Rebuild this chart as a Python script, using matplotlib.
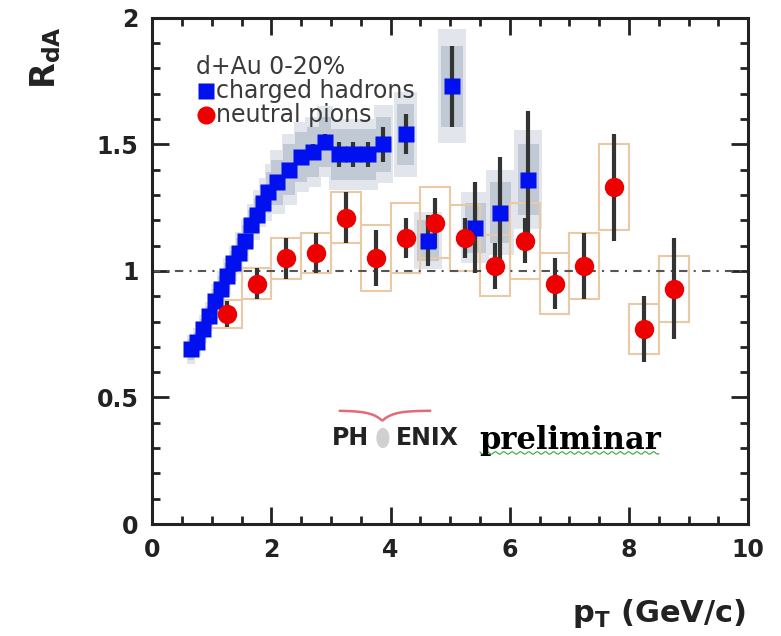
import numpy as np
import matplotlib.pyplot as plt
from matplotlib.patches import Rectangle, Ellipse
from matplotlib.ticker import MultipleLocator

plt.rcParams['font.family'] = ['DejaVu Sans']

# charged hadrons (blue squares)
pt_h = [0.65, 0.75, 0.85, 0.95, 1.05, 1.15, 1.25, 1.35, 1.45, 1.55, 1.65, 1.75, 1.85, 1.95,
        2.1, 2.3, 2.5, 2.7, 2.9, 3.125, 3.375, 3.625, 3.875, 4.25,
        4.63, 5.03, 5.42, 5.84, 6.31]
r_h = [0.69, 0.72, 0.77, 0.82, 0.88, 0.93, 0.98, 1.03, 1.07, 1.12, 1.18, 1.22, 1.27, 1.31,
       1.35, 1.40, 1.45, 1.47, 1.51, 1.46, 1.46, 1.46, 1.50, 1.54,
       1.12, 1.73, 1.17, 1.23, 1.36]
stat_h = [0.01, 0.01, 0.01, 0.01, 0.01, 0.01, 0.01, 0.01, 0.01, 0.01, 0.01, 0.01, 0.01, 0.01,
          0.02, 0.02, 0.02, 0.03, 0.03, 0.05, 0.05, 0.05, 0.07, 0.08,
          0.10, 0.16, 0.18, 0.22, 0.27]
sys_h = [0.04, 0.04, 0.04, 0.04, 0.05, 0.05, 0.05, 0.05, 0.06, 0.06, 0.06, 0.07, 0.07, 0.08,
         0.09, 0.10, 0.10, 0.10, 0.10, 0.10, 0.10, 0.10, 0.11, 0.12,
         0.08, 0.16, 0.10, 0.12, 0.14]
wid_h = [0.05] * 14 + [0.1] * 5 + [0.125] * 4 + [0.15] + [0.18] * 5

# neutral pions (red circles)
pt_p = [1.25, 1.75, 2.25, 2.75, 3.25, 3.75, 4.25, 4.75, 5.25, 5.75, 6.25, 6.75, 7.25, 7.75, 8.25, 8.75]
r_p = [0.83, 0.95, 1.05, 1.07, 1.21, 1.05, 1.13, 1.19, 1.13, 1.02, 1.12, 0.95, 1.02, 1.33, 0.77, 0.93]
stat_p = [0.05, 0.06, 0.08, 0.08, 0.10, 0.11, 0.08, 0.10, 0.08, 0.09, 0.09, 0.10, 0.13, 0.21, 0.13, 0.20]
sys_p = [0.055, 0.06, 0.08, 0.08, 0.10, 0.13, 0.14, 0.14, 0.13, 0.12, 0.15, 0.12, 0.13, 0.17, 0.10, 0.13]

fig = plt.figure(figsize=(7.81, 6.36), dpi=100)
ax = fig.add_axes([0.195, 0.176, 0.763, 0.796])

# grey systematic band for hadrons
for x, y, s, w in zip(pt_h, r_h, sys_h, wid_h):
    ax.add_patch(Rectangle((x - w * 1.3, y - s * 1.4), 2.6 * w, 2.8 * s,
                           color='#e2e6ec', lw=0, zorder=1))
    ax.add_patch(Rectangle((x - w, y - s), 2 * w, 2 * s,
                           color='#c0c9d4', lw=0, zorder=1.5))

# orange systematic boxes for pions
for x, y, s in zip(pt_p, r_p, sys_p):
    ax.add_patch(Rectangle((x - 0.25, y - s), 0.5, 2 * s, fill=False,
                           ec='#e9c9a6', lw=1.5, zorder=2))

ax.axhline(1.0, color='#555555', lw=1.5, ls=(0, (4, 3, 1, 3)), zorder=2.5)

ax.errorbar(pt_h, r_h, yerr=stat_h, fmt='none', ecolor='#333333', elinewidth=3, zorder=3)
ax.errorbar(pt_p, r_p, yerr=stat_p, fmt='none', ecolor='#333333', elinewidth=3, zorder=3)
ax.plot(pt_h, r_h, 's', color='#0010ee', ms=11, mec='none', zorder=4)
ax.plot(pt_p, r_p, 'o', color='#ee0000', ms=14, mec='none', zorder=4)

ax.set_xlim(0, 10)
ax.set_ylim(0, 2)
ax.xaxis.set_major_locator(MultipleLocator(2))
ax.xaxis.set_minor_locator(MultipleLocator(0.5))
ax.yaxis.set_minor_locator(MultipleLocator(0.1))
ax.set_yticks([0, 0.5, 1, 1.5, 2])
ax.set_yticklabels(['0', '0.5', '1', '1.5', '2'])
ax.tick_params(which='both', direction='in', top=True, right=True, width=2, color='#222222')
ax.tick_params(which='major', length=12, labelsize=17, pad=10)
ax.tick_params(which='minor', length=6)
for lab in ax.get_xticklabels() + ax.get_yticklabels():
    lab.set_fontweight('bold')
    lab.set_color('#222222')
for sp in ax.spines.values():
    sp.set_linewidth(2.2)
    sp.set_color('#222222')

# legend
ax.text(0.74, 1.805, 'd+Au 0-20%', fontsize=17, color='#3a3a3a', va='center')
ax.plot([0.9], [1.71], 's', color='#0010ee', ms=12, mec='none')
ax.text(1.07, 1.71, 'charged hadrons', fontsize=17, color='#3a3a3a', va='center')
ax.plot([0.9], [1.615], 'o', color='#ee0000', ms=13, mec='none')
ax.text(1.07, 1.615, 'neutral pions', fontsize=17, color='#3a3a3a', va='center')

# axis titles
fig.text(0.058, 0.91, r'$\mathbf{R_{dA}}$', fontsize=24, rotation=90, ha='center', va='center', color='#222222')
fig.text(0.955, 0.035, r'$\mathbf{p_T}$ (GeV/c)', fontsize=22, fontweight='bold', ha='right', va='center', color='#222222')

# PHENIX preliminar label
ax.text(3.02, 0.34, 'PH', fontsize=17, fontweight='bold', color='#222222', va='center')
ax.add_patch(Ellipse((3.87, 0.34), 0.22, 0.08, color='#d0d0d0', lw=0))
ax.text(4.08, 0.34, 'ENIX', fontsize=17, fontweight='bold', color='#222222', va='center')
sx = np.linspace(3.15, 4.66, 60)
sy = 0.448 - 0.04 * np.exp(-np.abs(sx - 3.86) / 0.18)
ax.plot(sx, sy, color='#e05060', lw=1.8, alpha=0.85)
ax.text(5.48, 0.297, 'preliminar', fontsize=22, fontweight='bold', family='DejaVu Serif',
        color='black', va='baseline')
wx = np.linspace(5.5, 8.5, 150)
ax.plot(wx, 0.281 + 0.005 * np.sin(wx * 45), color='#33aa33', lw=0.8)

fig.savefig('out.png', dpi=100)
